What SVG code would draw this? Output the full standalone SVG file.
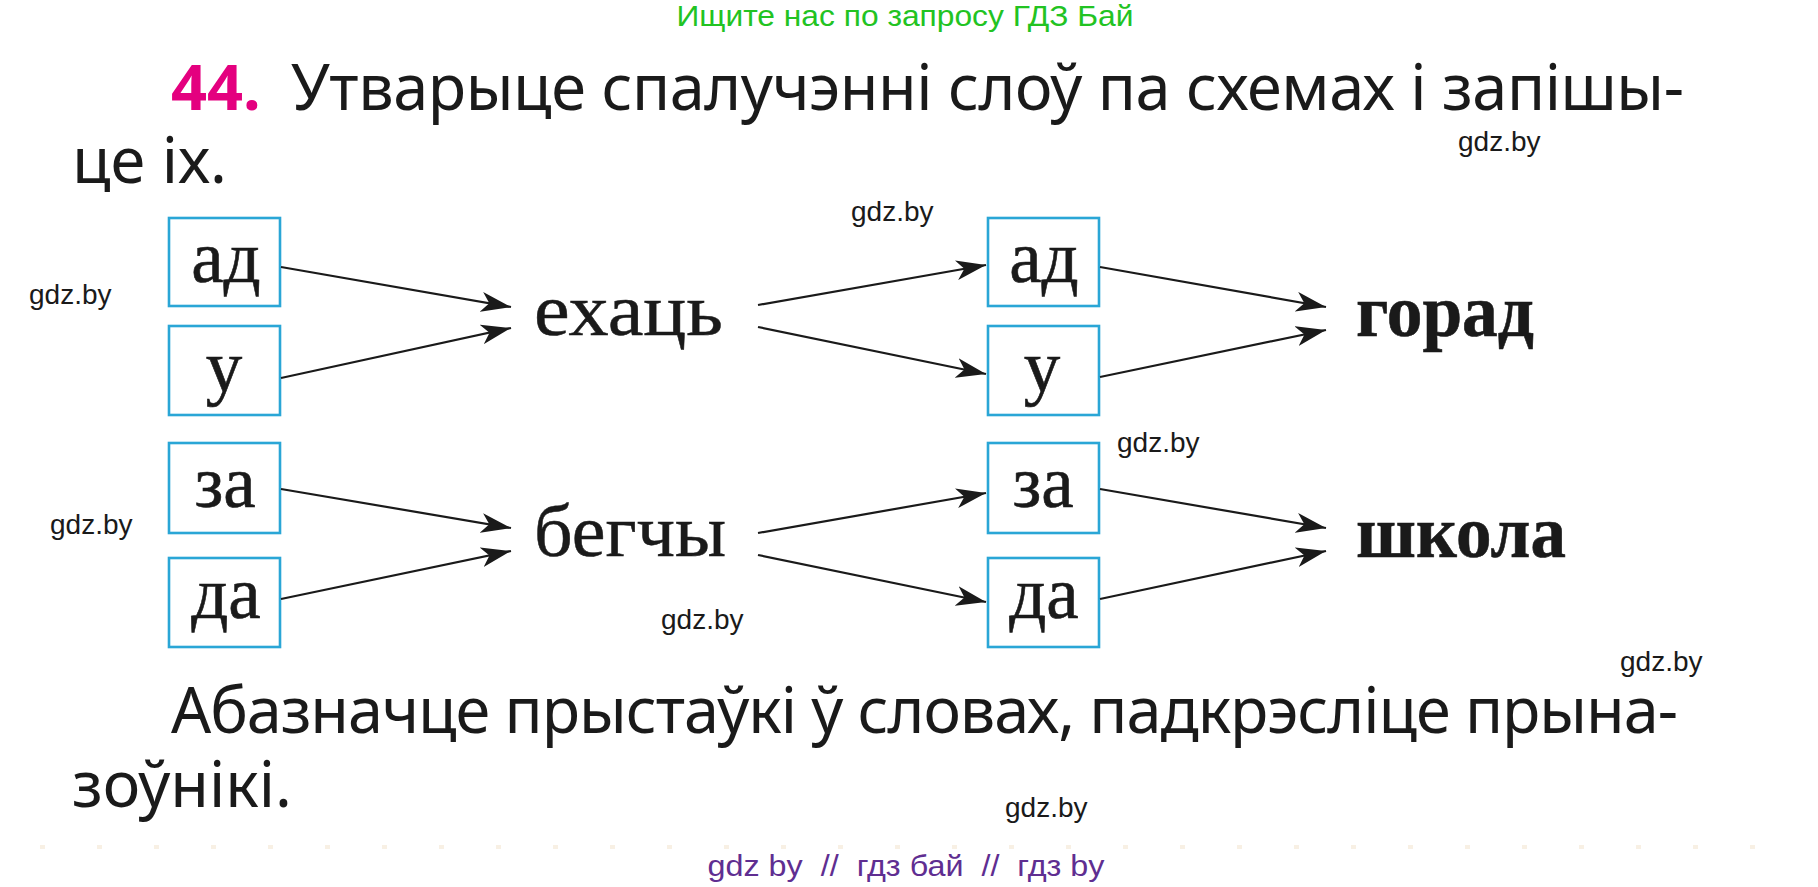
<svg xmlns="http://www.w3.org/2000/svg" width="1818" height="887" viewBox="0 0 1818 887">
<style>
.sans{font-family:"Noto Sans","Open Sans","Liberation Sans",sans-serif;fill:#1a1a1a;font-size:63px}
.wm{font-family:"Liberation Sans",Arial,sans-serif;font-size:28px;fill:#1a1a1a}
.serif{font-family:"Liberation Serif","Times New Roman",serif;font-size:74px;fill:#1a1a1a;stroke:#1a1a1a;stroke-width:0.5}
.bold{font-weight:bold;stroke-width:0.6}
.box{fill:#fff;stroke:#2aa6d6;stroke-width:2.6}
.bt{font-family:"Liberation Serif","Times New Roman",serif;font-size:73px;fill:#1a1a1a;stroke:#1a1a1a;stroke-width:0.6;text-anchor:middle}
.arr{stroke:#1a1a1a;stroke-width:2.2;fill:none;marker-end:url(#ah)}
</style>
<defs>
<marker id="ah" markerUnits="userSpaceOnUse" viewBox="0 0 30 20" refX="30" refY="10" markerWidth="30" markerHeight="20" orient="auto">
<path d="M0,0 L30,10 L0,20 L8,10 Z" fill="#1a1a1a"/>
</marker>
</defs>
<rect width="1818" height="887" fill="#fff"/>
<text x="905" y="26" text-anchor="middle" font-family="Liberation Sans,Arial,sans-serif" font-size="29" fill="#22c322" textLength="457" lengthAdjust="spacingAndGlyphs">Ищите нас по запросу ГДЗ Бай</text>
<g id="title">
<text x="171" y="110" class="sans" font-weight="bold" style="fill:#e4007f">44.</text>
<text x="291" y="110" class="sans" textLength="1393">Утварыце спалучэнні слоў па схемах і запішы-</text>
<text x="72" y="183" class="sans">це іх.</text>
</g>
<g id="left-top">
<g id="n-ad1"><rect class="box" x="169" y="218" width="111" height="88"/><text class="bt" x="226" y="282">ад</text></g>
<g id="n-u1"><rect class="box" x="169" y="326" width="111" height="89"/><text class="bt" x="224" y="391">у</text></g>
</g>
<g id="left-bottom">
<g id="n-za1"><rect class="box" x="169" y="443" width="111" height="90"/><text class="bt" x="225" y="507">за</text></g>
<g id="n-da1"><rect class="box" x="169" y="558" width="111" height="89"/><text class="bt" x="226" y="618">да</text></g>
</g>
<g id="n-ehac"><text class="serif" x="534" y="335" textLength="189" lengthAdjust="spacingAndGlyphs">ехаць</text></g>
<g id="n-begchy"><text class="serif" x="534" y="556" textLength="192" lengthAdjust="spacingAndGlyphs">бегчы</text></g>
<g id="right-top">
<g id="n-ad2"><rect class="box" x="988" y="218" width="111" height="88"/><text class="bt" x="1044" y="282">ад</text></g>
<g id="n-u2"><rect class="box" x="988" y="326" width="111" height="89"/><text class="bt" x="1042" y="391">у</text></g>
</g>
<g id="right-bottom">
<g id="n-za2"><rect class="box" x="988" y="443" width="111" height="90"/><text class="bt" x="1043" y="507">за</text></g>
<g id="n-da2"><rect class="box" x="988" y="558" width="111" height="89"/><text class="bt" x="1044" y="618">да</text></g>
</g>
<g id="n-horad"><text class="serif bold" x="1356" y="336" textLength="178" lengthAdjust="spacingAndGlyphs">горад</text></g>
<g id="n-shkola"><text class="serif bold" x="1356" y="557" textLength="210" lengthAdjust="spacingAndGlyphs">школа</text></g>
<g id="connectors">
<line class="arr" x1="281" y1="267" x2="511" y2="307"/>
<line class="arr" x1="281" y1="378" x2="511" y2="328"/>
<line class="arr" x1="281" y1="489" x2="511" y2="528"/>
<line class="arr" x1="281" y1="599" x2="511" y2="551"/>
<line class="arr" x1="758" y1="305" x2="986" y2="265"/>
<line class="arr" x1="758" y1="327" x2="986" y2="374"/>
<line class="arr" x1="758" y1="533" x2="986" y2="493"/>
<line class="arr" x1="758" y1="555" x2="986" y2="602"/>
<line class="arr" x1="1100" y1="267" x2="1326" y2="307"/>
<line class="arr" x1="1100" y1="377" x2="1326" y2="330"/>
<line class="arr" x1="1100" y1="489" x2="1326" y2="528"/>
<line class="arr" x1="1100" y1="599" x2="1326" y2="551"/>
</g>
<g id="task2">
<text x="171" y="733" class="sans" textLength="1507">Абазначце прыстаўкі ў словах, падкрэсліце прына-</text>
<text x="72" y="807" class="sans">зоўнікі.</text>
</g>
<g id="watermarks">
<text class="wm" x="851" y="221">gdz.by</text>
<text class="wm" x="1458" y="151">gdz.by</text>
<text class="wm" x="29" y="304">gdz.by</text>
<text class="wm" x="50" y="534">gdz.by</text>
<text class="wm" x="661" y="629">gdz.by</text>
<text class="wm" x="1117" y="452">gdz.by</text>
<text class="wm" x="1620" y="671">gdz.by</text>
<text class="wm" x="1005" y="817">gdz.by</text>
</g>
<line x1="40" y1="847" x2="1800" y2="847" stroke="#f8f0e4" stroke-width="4" stroke-dasharray="5 52"/>
<text x="906" y="876" text-anchor="middle" font-family="Liberation Sans,Arial,sans-serif" font-size="29" fill="#5f2e91" textLength="397" lengthAdjust="spacingAndGlyphs" xml:space="preserve">gdz by  //  гдз бай  //  гдз by</text>
</svg>
